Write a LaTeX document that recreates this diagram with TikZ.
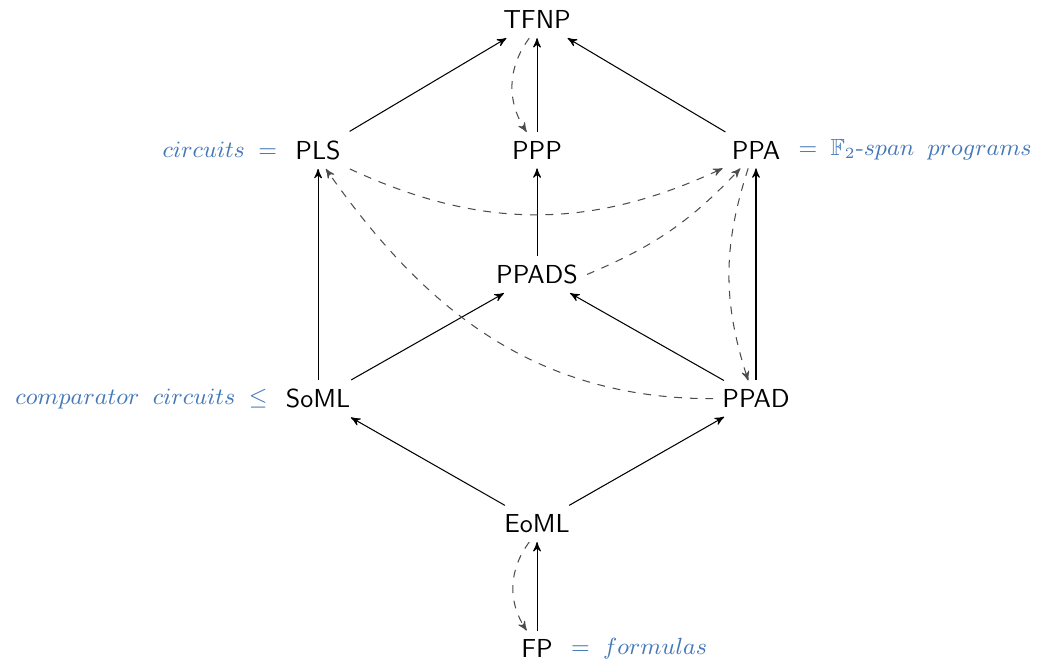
\documentclass[tikz,border=0pt]{standalone}
\usepackage{amsmath,amsfonts,amssymb}
\usepackage{tikz}
\usetikzlibrary{arrows,positioning}
\usepackage{xcolor}
\definecolor{noteblue}{rgb}{0.27,0.47,0.72}

\begin{document}
\begin{tikzpicture}[>=stealth',
  every node/.style={font=\sffamily},
  note/.style={text=noteblue, font=\small},
  redux/.style={->, dashed, black!70}]
\useasboundingbox (-7.26,-0.18) rectangle (6.84,8.77);
\node (fp) at (0,0) {FP};
\node (eoml) at (0,1.69) {EoML};
\node (soml) at (-2.96,3.38) {SoML};
\node (ppad) at (2.96,3.38) {PPAD};
\node (ppads) at (0,5.06) {PPADS};
\node (pls) at (-2.96,6.74) {PLS};
\node (ppp) at (0,6.74) {PPP};
\node (ppa) at (2.96,6.74) {PPA};
\node (tfnp) at (0,8.5) {TFNP};
% side notes
\node [note, left=0pt of pls] (plsnote) {$circuits \;=$};
\node [note, right=0pt of ppa] (ppanote) {$=\; \mathbb{F}_2\text{-}span\;\;programs$};
\node [note, left=0pt of soml] (somlnote) {$comparator\;\;circuits \;\leq$};
\node [note, right=0pt of fp] (fpnote) {$=\;formulas$};
% reductions
\draw [->] (fp) -- (eoml);
\draw [->] (eoml) -- (soml);
\draw [->] (eoml) -- (ppad);
\draw [->] (soml) -- (pls);
\draw [->] (soml) -- (ppads);
\draw [->] (ppad) -- (ppads);
\draw [->] (ppad) -- (ppa);
\draw [->] (ppads) -- (ppp);
\draw [->] (pls) -- (tfnp);
\draw [->] (ppp) -- (tfnp);
\draw [->] (ppa) -- (tfnp);
% dashed ones
\draw [redux] ([xshift=-3pt]tfnp.south) to [bend right=35] ([xshift=-4pt]ppp.north);
\draw [redux] ([xshift=-3pt]eoml.south) to [bend right=35] ([xshift=-4pt]fp.north);
\draw [redux] ([xshift=-3pt]ppa.south) to [bend right=18] ([xshift=-3pt]ppad.north);
\draw [redux] (pls.south east) to [bend right=25] (ppa.south west);
\draw [redux] (ppads.east) to [bend right=12] ([xshift=-6pt]ppa.south);
\draw [redux] (ppad.west) to [out=180, in=-55] ([xshift=3pt]pls.south);
\end{tikzpicture}
\end{document}
